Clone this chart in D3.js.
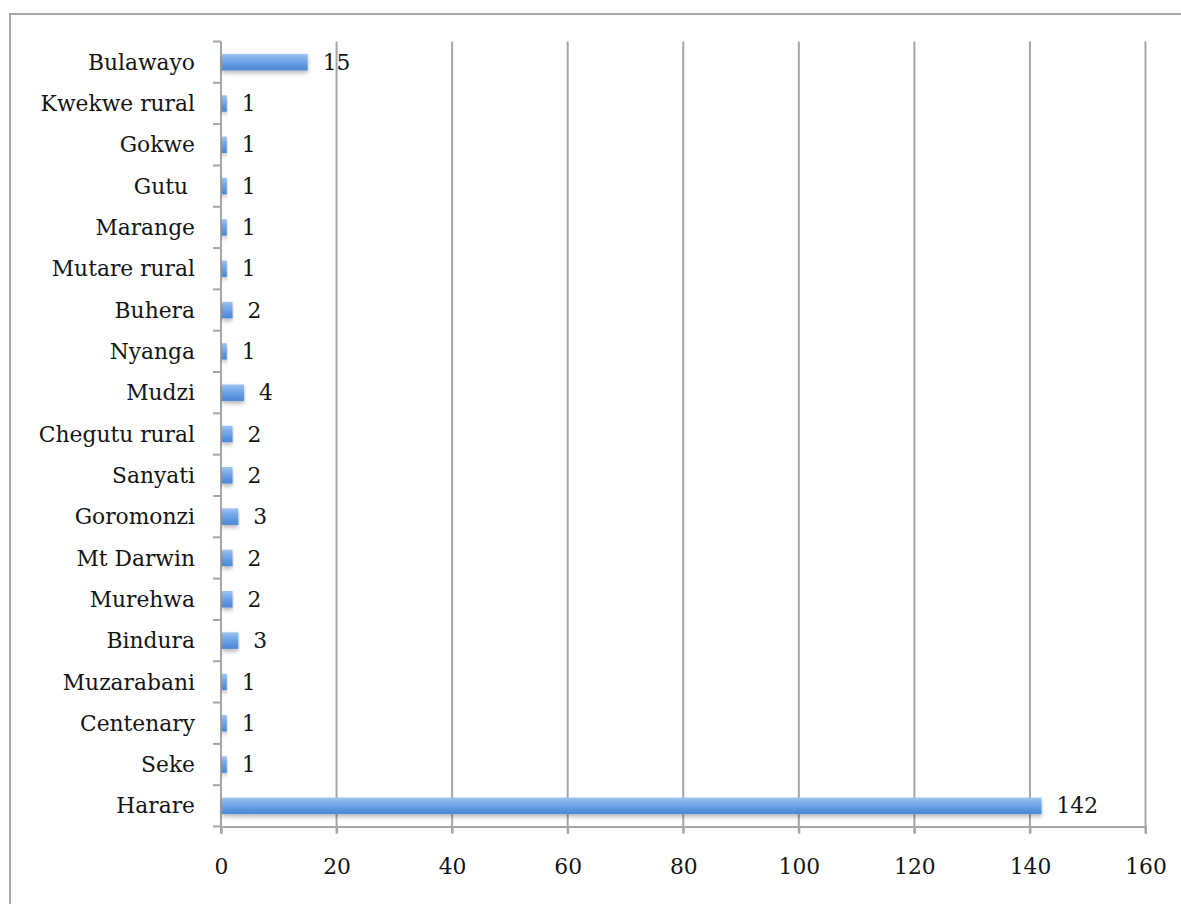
<!DOCTYPE html>
<html><head><meta charset="utf-8">
<script src="https://cdn.jsdelivr.net/npm/d3@7"></script>
<style>
html,body{margin:0;padding:0;background:#fff;}
svg{display:block;}
text{font-family:"DejaVu Serif",serif;fill:#151515;}
</style></head>
<body>
<svg id="chart" width="1181" height="904"></svg>
<script>
const categories = ["Bulawayo","Kwekwe rural","Gokwe","Gutu ","Marange","Mutare rural","Buhera","Nyanga","Mudzi","Chegutu rural","Sanyati","Goromonzi","Mt Darwin","Murehwa","Bindura","Muzarabani","Centenary","Seke","Harare"];
const values = [15,1,1,1,1,1,2,1,4,2,2,3,2,2,3,1,1,1,142];
const xTicks = [0,20,40,60,80,100,120,140,160];

(function(){
const svg = d3.select("#chart");
const W = 1181, H = 904;
const pl = 221, pr = 1145.5, pt = 41.5, pb = 826.5;
const FS = 21.8;

// outer border (cropped)
svg.append("rect").attr("x",10).attr("y",14).attr("width",W).attr("height",H)
  .attr("fill","none").attr("stroke","#a9a9a9").attr("stroke-width",2);

const defs = svg.append("defs");
const g = defs.append("linearGradient").attr("id","barGrad").attr("x1",0).attr("y1",0).attr("x2",0).attr("y2",1);
g.append("stop").attr("offset","0%").attr("stop-color","#9fc4f0");
g.append("stop").attr("offset","35%").attr("stop-color","#78abea");
g.append("stop").attr("offset","75%").attr("stop-color","#5993de");
g.append("stop").attr("offset","100%").attr("stop-color","#4d87d2");
const f = defs.append("filter").attr("id","shadow").attr("x","-5%").attr("y","-50%").attr("width","110%").attr("height","220%");
f.append("feDropShadow").attr("dx",0).attr("dy",2.5).attr("stdDeviation",2).attr("flood-color","#000").attr("flood-opacity",0.3);

const x = d3.scaleLinear().domain([0,160]).range([pl,pr]);
const y = d3.scaleBand().domain(categories).range([pt,pb]).paddingInner(0.6).paddingOuter(0.3);

// gridlines
svg.append("g").selectAll("line").data(xTicks.filter(d=>d>0)).join("line")
  .attr("x1",d=>x(d)).attr("x2",d=>x(d)).attr("y1",pt).attr("y2",pb+7)
  .attr("stroke","#a6a6a6").attr("stroke-width",2);

// bottom axis
const xAxis = d3.axisBottom(x).tickValues(xTicks).tickSize(7).tickPadding(25).tickFormat(d3.format("d"));
const ax = svg.append("g").attr("transform",`translate(0,${pb})`).call(xAxis);
ax.select(".domain").attr("stroke","#a6a6a6").attr("stroke-width",2);
ax.selectAll(".tick line").attr("stroke","#a6a6a6").attr("stroke-width",2);
ax.selectAll(".tick text").attr("font-size",FS).attr("font-family","DejaVu Serif").attr("fill","#151515");

// left axis with ticks between categories
const yAxisG = svg.append("g");
yAxisG.append("line").attr("x1",pl).attr("x2",pl).attr("y1",pt).attr("y2",pb+7)
  .attr("stroke","#a6a6a6").attr("stroke-width",2);
const bounds = d3.range(categories.length+1).map(i => pt + i*(pb-pt)/categories.length);
yAxisG.selectAll("line.t").data(bounds).join("line").attr("class","t")
  .attr("x1",pl-8).attr("x2",pl).attr("y1",d=>d).attr("y2",d=>d)
  .attr("stroke","#a6a6a6").attr("stroke-width",2);
yAxisG.selectAll("text").data(categories).join("text")
  .attr("x",195).attr("y",d=>y(d)+y.bandwidth()/2).attr("dy","0.35em")
  .attr("text-anchor","end").attr("font-size",FS).attr("xml:space","preserve")
  .style("white-space","pre").text(d=>d);

// bars
svg.append("g").selectAll("rect").data(values).join("rect")
  .attr("x",x(0)+1).attr("y",(d,i)=>y(categories[i]))
  .attr("width",d=>x(d)-x(0)-1).attr("height",y.bandwidth())
  .attr("fill","url(#barGrad)").attr("filter","url(#shadow)");

// value labels
svg.append("g").selectAll("text").data(values).join("text")
  .attr("x",d=>x(d)+15).attr("y",(d,i)=>y(categories[i])+y.bandwidth()/2).attr("dy","0.35em")
  .attr("font-size",FS).text(d=>d);
})();
</script>
</body></html>
